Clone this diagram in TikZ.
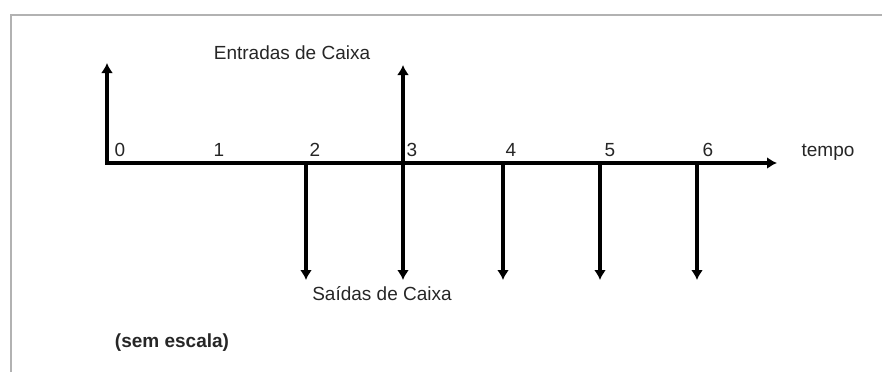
\documentclass[tikz,border=0pt]{standalone}
\usepackage{fontspec}
\setmainfont{Liberation Sans}
\usepackage{tkz-euclide}
\usetikzlibrary{arrows.meta}

\tikzset{
  flux/.style={line width=1.7pt,-{Latex[length=5pt,width=6pt]}},
  eixo/.style={line width=2pt,-{Latex[length=5pt,width=6pt]}},
  rotulo/.style={inner sep=1pt,text=black!85,font=\fontsize{9.5}{11}\selectfont},
}

\begin{document}
\begin{tikzpicture}[x=0.5pt,y=0.5pt]
                \useasboundingbox (0,0) rectangle (882,372);
                \draw[gray!60,line width=1pt] (11,0) -- (11,357) -- (882,357);

                \tkzDefPoint(107,209){O}
                \tkzDefPoint(777,209){X}

                \tkzDefPoint(306,209){P2}
                \tkzDefPoint(403,209){P3}
                \tkzDefPoint(503,209){P4}
                \tkzDefPoint(600,209){P5}
                \tkzDefPoint(697,209){P6}

                \tkzDefShiftPoint[O](0,100){E0}
                \tkzDefShiftPoint[P3](0,98){E3}

                \tkzDefShiftPoint[P2](0,-117){S2}
                \tkzDefShiftPoint[P3](0,-117){S3}
                \tkzDefShiftPoint[P4](0,-117){S4}
                \tkzDefShiftPoint[P5](0,-117){S5}
                \tkzDefShiftPoint[P6](0,-117){S6}

                \tkzDrawSegment[eixo,line cap=rect](O,X)

                \tkzDrawSegment[flux](O,E0)
                \tkzDrawSegment[flux](P3,E3)

                \tkzDrawSegment[flux](P2,S2)
                \tkzDrawSegment[flux](P3,S3)
                \tkzDrawSegment[flux](P4,S4)
                \tkzDrawSegment[flux](P5,S5)
                \tkzDrawSegment[flux](P6,S6)

                \node[rotulo] (t0) at (120,222) {0};
                \node[rotulo] (t1) at (219,222) {1};
                \node[rotulo] (t2) at (315,222) {2};
                \node[rotulo] (t3) at (412,222) {3};
                \node[rotulo] (t4) at (511,222) {4};
                \node[rotulo] (t5) at (610,222) {5};
                \node[rotulo] (t6) at (708,222) {6};

                \node[rotulo] (tempo) at (828,220) {tempo};
                \node[rotulo] (entradas) at (292,319) {Entradas de Caixa};
                \node[rotulo] (saidas) at (382,78) {Saídas de Caixa};
                \node[rotulo,font=\fontsize{9.5}{11}\selectfont\bfseries] (escala) at (172,29) {(sem escala)};
            \end{tikzpicture}
\end{document}
